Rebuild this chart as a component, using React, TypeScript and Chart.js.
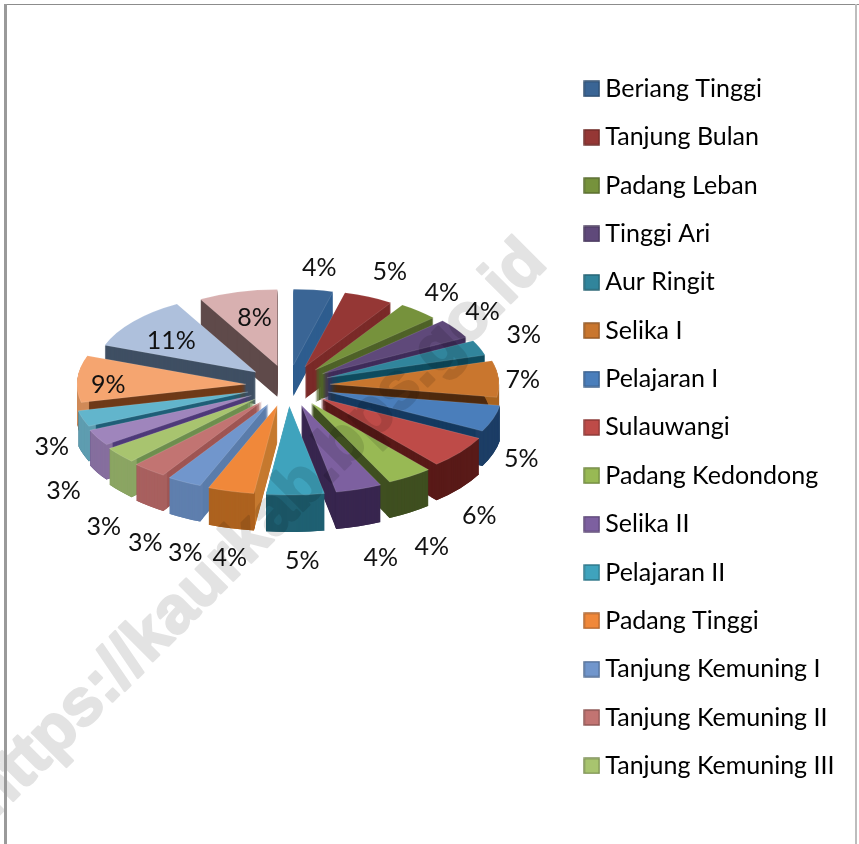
import React, { useEffect, useRef } from "react";
import { Chart, registerables } from "chart.js";

Chart.register(...registerables);

const namedCategories = [
  "Beriang Tinggi", "Tanjung Bulan", "Padang Leban", "Tinggi Ari", "Aur Ringit",
  "Selika I", "Pelajaran I", "Sulauwangi", "Padang Kedondong", "Selika II",
  "Pelajaran II", "Padang Tinggi", "Tanjung Kemuning I", "Tanjung Kemuning II", "Tanjung Kemuning III",
];
// The reference legend is cut off after 15 entries; the last five slices are unnamed there.
const unnamedCategories = ["Slice 16", "Slice 17", "Slice 18", "Slice 19", "Slice 20"];
const categories = [...namedCategories, ...unnamedCategories];
const shares = [4, 5, 4, 4, 3, 7, 5, 6, 4, 4, 5, 4, 3, 3, 3, 3, 3, 9, 11, 8];

const topColors = [
  "#3A6595", "#953735", "#76923C", "#5F497A", "#31859C", "#C9762E", "#4A7EBB", "#BE4B48", "#98B954", "#7D60A0",
  "#3FA3BD", "#F0883A", "#7196CC", "#C27472", "#A8C46F", "#9F85BC", "#62B5CC", "#F5A570", "#AEC0DC", "#D8B0B0",
];
const cutWallColors = [
  "#2E5D8F", "#7A2A28", "#4F6228", "#3F2C5A", "#0F4C5F", "#4F2A0E", "#153A60", "#591A18", "#3F4F20", "#38264F",
  "#1F6072", "#C67A30", "#5A7CAB", "#9E5553", "#6E8F4F", "#4F3A7A", "#1F5F78", "#6F3A18", "#3F4F63", "#5F4A4A",
];
const rimWallColors = [
  "#2E5D8F", "#7A2A28", "#4F6228", "#3F2C5A", "#0F4C5F", "#A96420", "#1D3E66", "#591A18", "#3F4F20", "#38264F",
  "#1F6072", "#AD621F", "#5F7FAE", "#A8605F", "#8BA563", "#866F9E", "#5F9DB0", "#D08A58", "#3F4F63", "#5F4A4A",
];
const labelShiftX = [6, 21, 23, 27, 44, 24, 28, 19, 22, 22, 7, -1, 1, -4, -16, -34, -31, 31, 38, 17];
const labelShiftY = [-22, -25, -18, -17, -13, 1, 40, 64, 70, 69, 66, 67, 71, 73, 72, 53, 28, 6, 19, 26];

const watermark = "https://kaurkab.bps.go.id";
const FONT = "Lato, Carlito, sans-serif";

const pie3d = {
  cx: 288, cy: 385.5, rx: 170, ry: 82.5, explodeX: 42, explodeY: 20.5, depth: 34, perspective: 0.08, rim: 4,
};

function darken(hex: string, k: number) {
  const n = parseInt(hex.slice(1), 16);
  const c = (v: number) => Math.round(v * k);
  return `rgb(${c((n >> 16) & 255)},${c((n >> 8) & 255)},${c(n & 255)})`;
}

function legendSwatch(color: string) {
  const c = document.createElement("canvas");
  c.width = 17;
  c.height = 17;
  const g = c.getContext("2d")!;
  g.fillStyle = color;
  g.fillRect(1, 1, 15, 15);
  g.strokeStyle = darken(color, 0.72);
  g.lineWidth = 1.4;
  g.strokeRect(1, 1, 15, 15);
  return c;
}

function sliceFrame(arc: any) {
  const mid = (arc.startAngle + arc.endAngle) / 2;
  const s = Math.cos(mid);
  const c = -Math.sin(mid);
  const f = 1 - pie3d.perspective * c;
  return { mid, s, c, f };
}

const pie3dPlugin = {
  id: "pie3d",
  beforeDatasetsDraw(chart: any) {
    const ctx = chart.ctx;
    const arcs: any[] = chart.getDatasetMeta(0).data;
    const order = arcs
      .map((a, i) => ({ a, i, z: Math.sin((a.startAngle + a.endAngle) / 2) }))
      .sort((p, q) => p.z - q.z);
    for (const { a, i } of order) {
      const { s, c, f } = sliceFrame(a);
      const kx = (pie3d.rx * f) / a.outerRadius;
      const ky = (pie3d.ry * f) / a.outerRadius;
      const place = (dy: number) => {
        ctx.save();
        ctx.translate(pie3d.cx + pie3d.explodeX * s, pie3d.cy - pie3d.explodeY * c + dy);
        ctx.scale(kx, ky);
        ctx.translate(-a.x, -a.y);
      };
      const orig = a.options;
      const depth = Math.round(pie3d.depth * f);
      // cut faces: the whole wedge pushed down
      a.options = { ...orig, backgroundColor: cutWallColors[i], borderWidth: 0 };
      for (let d = depth; d >= 1; d--) {
        place(d);
        a.draw(ctx);
        ctx.restore();
      }
      // outer wall: only a thin ring of the wedge pushed down, and only where it faces the viewer
      if (c < 0.3) {
        const inner = a.innerRadius;
        a.innerRadius = a.outerRadius - pie3d.rim / ky;
        a.options = { ...orig, backgroundColor: rimWallColors[i], borderWidth: 0 };
        for (let d = depth; d >= 1; d--) {
          place(d);
          a.draw(ctx);
          ctx.restore();
        }
        a.innerRadius = inner;
      }
      a.options = orig;
      place(0);
      a.draw(ctx);
      ctx.restore();
    }
    return false;
  },
  afterDraw(chart: any) {
    const ctx = chart.ctx;
    const arcs: any[] = chart.getDatasetMeta(0).data;
    const total = shares.reduce((p, v) => p + v, 0);
    ctx.save();
    ctx.font = `25px ${FONT}`;
    ctx.fillStyle = "#111";
    ctx.textAlign = "center";
    ctx.textBaseline = "middle";
    arcs.forEach((a, i) => {
      const { s, c, f } = sliceFrame(a);
      const x = pie3d.cx + (pie3d.explodeX + pie3d.rx * f) * s + labelShiftX[i];
      const y = pie3d.cy - (pie3d.explodeY + pie3d.ry * f) * c + labelShiftY[i];
      ctx.fillText(`${Math.round((100 * shares[i]) / total)}%`, x, y);
    });
    ctx.restore();

    // Watermark, fattened on a layer of its own so fill and stroke do not add up in opacity
    const layer = document.createElement("canvas");
    layer.width = chart.width;
    layer.height = chart.height;
    const w = layer.getContext("2d")!;
    w.translate(-6, 820);
    w.rotate((-45 * Math.PI) / 180);
    w.font = `bold 66px "Liberation Sans", sans-serif`;
    w.lineWidth = 2.5;
    w.lineJoin = "round";
    w.fillStyle = "#000";
    w.strokeStyle = "#000";
    w.fillText(watermark, 0, 0);
    w.strokeText(watermark, 0, 0);
    ctx.save();
    ctx.globalAlpha = 0.11;
    ctx.drawImage(layer, 0, 0);
    ctx.restore();
  },
};

export default function App() {
  const ref = useRef<HTMLCanvasElement>(null);
  useEffect(() => {
    const chart = new Chart(ref.current!, {
      type: "pie",
      data: {
        labels: categories,
        datasets: [
          {
            data: shares,
            backgroundColor: topColors,
            borderColor: "rgba(255,255,255,0.28)",
            borderWidth: 1,
          },
        ],
      },
      options: {
        responsive: false,
        animation: false,
        layout: { padding: { top: 53, right: 14.5, bottom: 0, left: 0 } },
        plugins: {
          tooltip: { enabled: false },
          legend: {
            position: "right",
            align: "start",
            labels: {
              usePointStyle: true,
              boxWidth: 2,
              boxHeight: 25,
              padding: 23.36,
              color: "#111",
              font: { family: FONT, size: 25 },
              filter: (item: any) => item.index < namedCategories.length,
              generateLabels: () =>
                namedCategories.map((text, index) => ({
                  text,
                  index,
                  fillStyle: topColors[index],
                  strokeStyle: topColors[index],
                  pointStyle: legendSwatch(topColors[index]),
                  hidden: false,
                })),
            },
          },
        },
      } as any,
      plugins: [pie3dPlugin as any],
    });
    return () => chart.destroy();
  }, []);
  return (
    <div style={{ position: "absolute", left: 0, top: 0, width: 859, height: 844, overflow: "hidden", background: "#fff" }}>
      <canvas ref={ref} width={859} height={844} style={{ display: "block" }} />
      <div style={{ position: "absolute", left: 4, top: 4, width: 855, height: 1, background: "#8c8c8c" }} />
      <div style={{ position: "absolute", left: 4, top: 4, width: 3, height: 840, background: "#9a9a9a" }} />
      <div style={{ position: "absolute", left: 855, top: 4, width: 2, height: 840, background: "#bdbdbd" }} />
    </div>
  );
}
